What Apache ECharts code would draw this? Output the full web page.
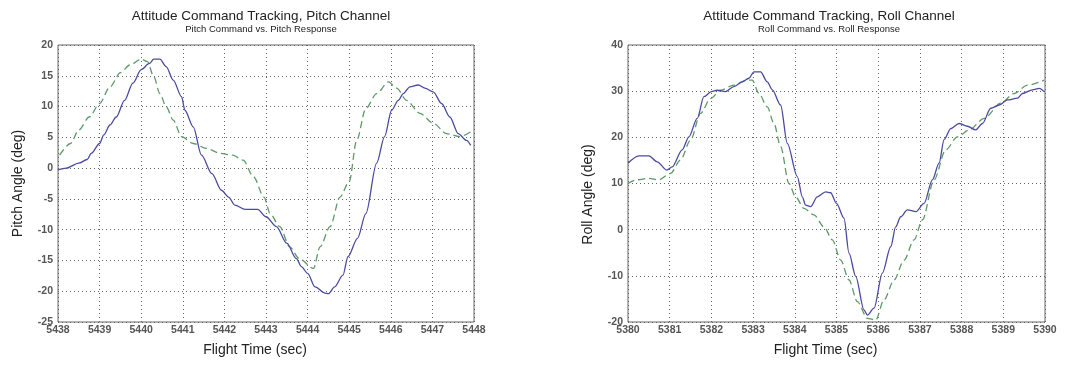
<!DOCTYPE html>
<html>
<head>
<meta charset="utf-8">
<script src="https://cdn.jsdelivr.net/npm/echarts@6/dist/echarts.min.js"></script>
<style>
  html, body { margin: 0; padding: 0; background: #fff; }
  #chart { width: 1068px; height: 365px; }
</style>
</head>
<body>
<div id="chart"></div>
<script>
// pitch channel, [time, deg]
const pitchResponse = [
  [5438.0, -0.3], [5438.2, 0], [5438.5, 0.8], [5438.7, 1.4], [5438.8, 2.4], [5439.0, 4.0],
  [5439.1, 5.4], [5439.25, 7], [5439.4, 8.3], [5439.6, 11], [5439.8, 13.8], [5440.0, 16],
  [5440.2, 17], [5440.3, 17.7], [5440.45, 17.7], [5440.6, 16.5], [5440.77, 14.3], [5440.97, 11.6],
  [5441.05, 9.4], [5441.25, 6.7], [5441.45, 2.1], [5441.7, -0.9], [5441.93, -3.6], [5442.1, -4.7],
  [5442.25, -6], [5442.5, -6.7], [5442.8, -6.7], [5443.0, -7.9], [5443.25, -9.5], [5443.5, -12.2],
  [5443.73, -14.7], [5443.85, -16.0], [5444.0, -17.1], [5444.18, -19.3], [5444.42, -20.3], [5444.5, -20.4],
  [5444.65, -19.3], [5444.85, -17.4], [5444.97, -14.4], [5445.2, -11.4], [5445.4, -7.4], [5445.66, 0.8],
  [5445.85, 5.1], [5446.02, 9.4], [5446.18, 11], [5446.3, 12.1], [5446.46, 13.2], [5446.66, 13.5],
  [5446.82, 13], [5447.02, 12.4], [5447.22, 10.5], [5447.42, 8.3], [5447.62, 5.6], [5447.82, 4.5],
  [5447.92, 3.7]
]
const pitchCommand = [
  [5438.04, 2.1], [5438.3, 4], [5438.5, 6.2], [5438.75, 8.3], [5439.0, 10.5], [5439.25, 13.2],
  [5439.5, 15.5], [5439.73, 16.75], [5440.0, 17.7], [5440.15, 17.3], [5440.3, 14.9], [5440.45, 12.1],
  [5440.6, 10], [5440.77, 7.8], [5440.97, 5.1], [5441.25, 4], [5441.57, 3.2], [5441.9, 2.4],
  [5442.2, 2.1], [5442.45, 1.3], [5442.7, -1.4], [5442.95, -4.7], [5443.1, -7.4], [5443.33, -9.5],
  [5443.57, -12.8], [5443.8, -14.7], [5444.14, -16.3], [5444.3, -12.8], [5444.54, -9.5], [5444.78, -4.7],
  [5445.0, -2.2], [5445.18, 4.5], [5445.4, 9.7], [5445.66, 12.1], [5445.94, 14.0], [5446.14, 13.0],
  [5446.38, 11], [5446.7, 8.9], [5447.02, 7.3], [5447.34, 5.6], [5447.66, 5.1], [5447.92, 5.9]
]
// roll channel, [time, deg]
const rollResponse = [
  [5380.0, 14.4], [5380.26, 16], [5380.5, 16], [5380.7, 14.7], [5380.93, 12.9], [5381.06, 13.6],
  [5381.3, 17.3], [5381.46, 20.1], [5381.66, 24.1], [5381.82, 28.8], [5382.0, 29.9], [5382.14, 30.2],
  [5382.34, 29.9], [5382.54, 31], [5382.74, 32], [5382.9, 32.8], [5383.02, 34.2], [5383.18, 34.2],
  [5383.34, 32], [5383.46, 30.3], [5383.66, 27], [5383.82, 18.7], [5384.06, 11.5], [5384.18, 7.1],
  [5384.26, 5.3], [5384.38, 5], [5384.54, 7.1], [5384.74, 8.2], [5384.86, 8.0], [5385.0, 5.7],
  [5385.18, 2.5], [5385.3, -5.1], [5385.46, -10.1], [5385.66, -17.4], [5385.74, -18.5], [5385.9, -17.0],
  [5386.1, -9.4], [5386.3, -3.7], [5386.42, 0.6], [5386.54, 2.8], [5386.7, 4.3], [5386.9, 3.9],
  [5387.1, 5.7], [5387.3, 10.8], [5387.46, 14.4], [5387.58, 19.5], [5387.74, 21.9], [5387.94, 23.0],
  [5388.14, 22.4], [5388.34, 21.6], [5388.5, 23], [5388.7, 26.3], [5388.9, 27], [5389.1, 28.1],
  [5389.34, 28.5], [5389.46, 29.5], [5389.7, 30.3], [5389.86, 30.6], [5389.98, 29.9]
]
const rollCommand = [
  [5380.0, 10], [5380.2, 10.8], [5380.5, 11.1], [5380.74, 10.8], [5381.02, 12.2], [5381.26, 15.1],
  [5381.5, 19.4], [5381.74, 25.2], [5381.98, 28.4], [5382.22, 30.2], [5382.54, 31.3], [5382.86, 32.4],
  [5382.98, 32.4], [5383.14, 29.5], [5383.34, 26.6], [5383.5, 23], [5383.66, 18], [5383.86, 10],
  [5384.02, 7.1], [5384.22, 4.6], [5384.46, 3.2], [5384.7, 0.6], [5384.9, -2.2], [5385.1, -6.6],
  [5385.3, -10.9], [5385.5, -15.6], [5385.74, -19.2], [5385.94, -19.6], [5386.14, -15.2], [5386.38, -10.9],
  [5386.62, -6.6], [5386.86, -2.2], [5387.06, 2.1], [5387.34, 10.8], [5387.62, 17.3], [5387.9, 20.1],
  [5388.18, 21.6], [5388.54, 24.1], [5388.94, 27.4], [5389.26, 29.5], [5389.58, 31.3], [5389.98, 32.4]
]
const titles = ['Attitude Command Tracking, Pitch Channel', 'Attitude Command Tracking, Roll Channel']
const subtitles = ['Pitch Command vs. Pitch Response', 'Roll Command vs. Roll Response']
const yNames = ['Pitch Angle (deg)', 'Roll Angle (deg)']
const xName = 'Flight Time (sec)'

const chart = echarts.init(document.getElementById('chart'))

const font = 'Liberation Sans, Arial, sans-serif'
const gridLine = { show: true, lineStyle: { color: '#666', type: [1, 3], width: 1 } }
const tickLabel = { color: '#555', fontSize: 10.5, fontWeight: 'bold', fontFamily: font, formatter: v => String(v) }

function xAxis (idx, min, max) {
  return {
    type: 'value',
    gridIndex: idx,
    min: min,
    max: max,
    interval: 1,
    axisLine: { show: false },
    axisTick: { show: false },
    splitLine: gridLine,
    axisLabel: Object.assign({ margin: 3, showMinLabel: true, showMaxLabel: true }, tickLabel),
    name: xName,
    nameLocation: 'middle',
    nameGap: 21,
    nameTextStyle: { color: '#222', fontSize: 14, fontFamily: font, padding: [0, 22, 0, 0] }
  }
}

function yAxis (idx, min, max, interval, namePad) {
  return {
    type: 'value',
    gridIndex: idx,
    min: min,
    max: max,
    interval: interval,
    axisLine: { show: false },
    axisTick: { show: false },
    splitLine: gridLine,
    axisLabel: Object.assign({ margin: 5, showMinLabel: true, showMaxLabel: true }, tickLabel),
    name: yNames[idx],
    nameLocation: 'middle',
    nameGap: 33,
    nameTextStyle: { color: '#222', fontSize: 14, fontFamily: font, padding: namePad }
  }
}

function line (name, idx, data, dashed) {
  return {
    name: name,
    type: 'line',
    xAxisIndex: idx,
    yAxisIndex: idx,
    data: data,
    smooth: 0.3,
    smoothMonotone: 'x',
    showSymbol: false,
    lineStyle: dashed
      ? { color: '#5d9a68', width: 1.3, type: [7, 4] }
      : { color: '#4a4aa0', width: 1.3 }
  }
}

const option = {
  backgroundColor: '#fff',
  animation: false,
  title: [0, 1].map(i => ({
    text: titles[i],
    subtext: subtitles[i],
    left: i === 0 ? 256 : 824,
    top: 4,
    textAlign: 'center',
    itemGap: 1,
    textStyle: { color: '#222', fontSize: 13.5, fontWeight: 'normal', fontFamily: font },
    subtextStyle: { color: '#222', fontSize: 9.5, fontFamily: font }
  })),
  grid: [
    { left: 58, top: 45, width: 416, height: 277, show: true, borderColor: '#666', borderWidth: 1, backgroundColor: 'transparent' },
    { left: 628, top: 45, width: 417, height: 277, show: true, borderColor: '#666', borderWidth: 1, backgroundColor: 'transparent' }
  ],
  xAxis: [xAxis(0, 5438, 5448), xAxis(1, 5380, 5390)],
  yAxis: [yAxis(0, -25, 20, 5, [0, 0, 0, 0]), yAxis(1, -20, 40, 10, [0, 22, 0, 0])],
  series: [
    line('Pitch Command', 0, pitchCommand, true),
    line('Pitch Response', 0, pitchResponse, false),
    line('Roll Command', 1, rollCommand, true),
    line('Roll Response', 1, rollResponse, false)
  ]
}

chart.setOption(option)
</script>
</body>
</html>
